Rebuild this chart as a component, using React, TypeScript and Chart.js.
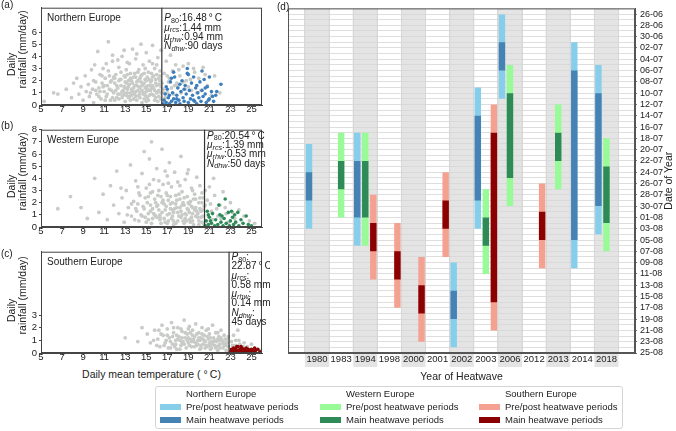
import React, { useEffect, useRef } from 'react';
import { Chart, registerables } from 'chart.js';

Chart.register(...registerables);

const FONT = '"Liberation Sans", Arial, Helvetica, sans-serif';
type Pt = [number, number];

// ---------------- panels (a)-(c) ----------------
const regionNames = ['Northern Europe', 'Western Europe', 'Southern Europe'];
const thresholdP80 = [16.48, 20.54, 22.87];
const muRcs = [1.44, 1.39, 0.58];
const muRhw = [0.94, 0.53, 0.14];
const nDhw = [90, 50, 45];
const tempTicks = [5, 7, 9, 11, 13, 15, 17, 19, 21, 23, 25];
const rainTicksA = [0, 1, 2, 3, 4, 5, 6];
const rainTicksB = [0, 1, 2, 3, 4, 5, 6, 7, 8];
const rainTicksC = [0, 1, 2, 3];

const northAll: Pt[] = [
  [5.3,0.3],[6.2,1.0],[6.6,0.9],[7.4,1.3],[7.9,0.6],[8.1,1.8],[8.4,2.2],[8.6,0.9],[8.8,1.5],[9.0,0.4],[9.2,2.4],[9.3,1.1],[9.5,1.7],[9.6,0.7],[9.8,2.9],[9.9,1.3],[10.0,0.2],[10.1,3.3],[10.2,1.9],[10.3,0.9],[10.4,4.4],[10.5,1.4],[10.6,2.5],[10.7,0.5],[10.8,1.8],[10.9,3.0],[11.0,1.1],[11.1,2.2],[11.2,0.7],[11.3,1.6],[11.4,5.2],[11.4,2.8],[11.5,1.3],[11.6,0.4],[11.7,2.0],[11.8,3.6],[11.9,1.0],[12.0,1.8],[12.1,2.5],[12.2,0.6],[12.3,1.4],[12.4,3.1],[12.5,2.1],[12.5,0.9],[12.6,1.6],[12.7,4.0],[12.8,1.2],[12.9,2.4],[13.0,0.3],[13.0,1.9],[13.1,2.9],[13.2,1.0],[13.3,1.5],[13.4,3.4],[13.4,0.7],[13.5,2.2],[13.6,1.3],[13.7,4.6],[13.7,1.8],[13.8,0.5],[13.9,2.6],[14.0,1.1],[14.0,3.8],[14.1,1.6],[14.2,2.0],[14.3,0.8],[14.3,2.9],[14.4,1.4],[14.5,5.0],[14.5,2.4],[14.6,0.2],[14.7,1.7],[14.7,3.3],[14.8,1.0],[14.9,2.1],[15.0,1.5],[15.0,4.3],[15.1,0.6],[15.2,2.7],[15.3,1.2],[15.3,3.6],[15.4,1.9],[15.5,0.9],[15.6,2.3],[15.6,4.9],[15.7,1.4],[15.8,0.4],[15.8,3.0],[15.9,1.8],[16.0,2.5],[16.1,1.1],[16.1,3.9],[16.2,0.7],[16.3,2.0],[16.4,1.5],[16.4,4.5],
  [16.7,2.6],[16.9,3.6],[17.1,1.9],[17.3,4.1],[17.5,2.8],[17.8,3.3],[18.0,1.5],[18.2,2.4],[18.5,3.2],[18.8,2.0],[19.0,3.4],[19.3,1.2],[19.6,2.7],[20.0,2.2],[20.4,3.1],[20.8,1.6],[21.2,0.8],[21.5,2.4],[22.0,1.0],
  [11.3,0.9],[11.6,1.9],[11.9,2.3],[12.1,1.2],[12.3,0.9],[12.4,2.0],[12.6,2.7],[12.8,0.8],[12.9,1.5],[13.1,1.8],[13.2,2.5],[13.3,0.6],[13.5,1.0],[13.6,2.0],[13.8,1.4],[13.9,0.9],[14.0,2.3],[14.2,1.2],[14.2,2.7],[14.4,0.6],[14.5,1.9],[14.6,1.2],[14.8,2.6],[14.9,0.8],[15.0,2.0],[15.1,1.3],[15.2,0.4],[15.4,1.6],[15.5,2.6],[15.7,0.8],[15.9,2.1],[16.0,1.0],[16.2,1.7],[16.3,2.8],[16.4,0.5],[16.6,1.3],[16.8,0.6],[17.0,1.0],[17.2,2.2],[17.6,0.9],[17.9,1.8],[18.3,1.0],[18.7,1.3],[19.2,2.1],[19.8,1.0],
  [12.7,1.1],[13.0,1.4],[13.3,2.0],[13.6,0.8],[13.9,1.6],[14.1,0.4],[14.4,2.2],[14.7,0.9],[15.0,0.3],[15.3,2.1],[15.6,1.6],[15.9,0.6],[16.2,2.2],[11.0,1.6],[10.6,1.1],[12.0,0.4],[14.9,1.4],[15.4,1.2],
  [10.2,1.2],[10.5,0.7],[10.9,1.5],[11.1,0.4],[11.5,2.4],[11.7,1.2],[11.8,0.6],[12.0,2.2],[12.2,1.6],[12.4,0.5],[12.6,2.1],[12.7,0.6],[12.9,1.0],[13.0,2.3],[13.1,0.8],[13.2,1.3],[13.4,1.7],[13.5,2.6],[13.5,0.4],[13.7,1.1],[13.8,2.3],[14.0,0.7],[14.1,1.9],[14.3,1.5],[14.4,1.0],[14.6,2.5],[14.6,1.6],[14.8,0.5],[14.8,1.8],[15.0,1.1],[15.1,2.3],[15.2,1.6],[15.3,0.8],[15.5,1.4],[15.5,2.0],[15.7,2.4],[15.8,1.2],[16.0,1.6],[16.1,0.3],[16.2,1.2],[16.3,2.4],[16.4,1.0],[16.5,1.8],[16.7,1.0],[17.0,2.4],[17.4,1.4],[17.7,1.6],[18.1,2.9],[18.5,1.9],[19.0,1.5],[19.5,3.0],[20.2,1.2],[20.6,2.5],[9.7,1.0],[10.0,2.0],[10.8,2.4],[11.2,3.4],[12.3,3.7],[13.2,3.5],[14.1,4.2],[14.9,3.0],[15.6,3.4],[16.0,3.3],[12.9,4.5],[11.8,4.1]
];
const northHeatwave: Pt[] = [
  [16.6,0.1],[16.7,0.4],[16.8,0.9],[16.9,0.2],[17.0,1.3],[17.1,0.6],[17.2,0.1],[17.3,1.9],[17.4,0.3],[17.5,1.0],[17.6,0.5],[17.7,2.3],[17.8,0.2],[17.9,0.8],[18.0,1.4],[18.1,0.4],[18.2,0.1],[18.3,1.1],[18.4,2.0],[18.5,0.6],[18.6,0.3],[18.7,1.6],[18.8,0.9],[18.9,2.6],[19.0,0.2],[19.1,1.2],[19.2,0.5],[19.3,1.8],[19.4,0.8],[19.5,2.3],[19.6,0.3],[19.7,1.4],[19.8,0.1],[19.9,1.0],[20.0,0.6],[20.1,1.9],[20.2,0.3],[20.3,1.2],[20.4,0.7],[20.5,2.1],[20.6,0.9],[20.7,0.2],[20.8,1.5],[21.0,0.5],[21.2,1.1],[21.4,0.3],[21.6,0.8],[22.1,1.7],[21.7,1.1],[17.6,2.7],[18.9,3.0],[20.3,2.8],[19.0,2.5],[18.2,1.7],[17.2,0.8],[16.9,1.5],[20.9,0.4],[19.5,0.4],[18.6,1.3],[17.9,0.5],[21.3,0.7],[19.8,1.6],[20.6,1.4],[17.4,2.2],[21.0,2.3]
];

const westAll: Pt[] = [
  [6.6,1.5],[7.8,2.5],[8.8,1.6],[9.4,0.7],[10.1,4.0],[10.5,1.2],[10.9,2.7],[11.3,0.6],[11.6,3.4],[11.9,1.8],[12.2,4.6],[12.4,1.1],[12.7,2.4],[12.9,0.4],[13.1,3.0],[13.3,1.6],[13.5,5.1],[13.6,0.9],[13.8,2.1],[14.0,3.8],[14.1,1.3],[14.3,0.5],[14.4,2.6],[14.6,4.4],[14.7,1.7],[14.8,6.2],[14.9,0.8],[15.0,3.2],[15.1,2.0],[15.2,1.1],[15.3,5.6],[15.4,2.8],[15.5,7.0],[15.5,0.3],[15.6,1.5],[15.7,3.9],[15.8,2.3],[15.9,0.9],[16.0,4.8],[16.1,1.8],[16.2,3.0],[16.3,0.6],[16.4,2.5],[16.5,6.4],[16.5,1.2],[16.6,3.5],[16.7,1.9],[16.8,0.4],[16.9,2.8],[17.0,4.2],[17.0,1.0],[17.1,2.2],[17.2,5.3],[17.3,1.5],[17.4,0.7],[17.4,3.3],[17.5,2.0],[17.6,1.2],[17.7,4.5],[17.8,2.6],[17.8,0.3],[17.9,1.6],[18.0,3.7],[18.1,0.9],[18.2,2.3],[18.3,1.3],[18.3,5.8],[18.4,2.9],[18.5,0.5],[18.6,1.8],[18.7,3.9],[18.8,1.0],[18.9,2.5],[19.0,1.4],[19.0,4.7],[19.1,0.6],[19.2,2.1],[19.3,3.2],[19.4,1.1],[19.5,0.2],[19.6,2.7],[19.7,1.6],[19.8,4.1],[19.9,0.8],[20.0,2.0],[20.1,3.4],[20.2,1.3],[20.3,0.4],[20.4,2.4],[20.5,1.7],
  [20.6,3.0],[20.8,2.2],[21.0,3.3],[21.2,1.3],[21.5,2.6],[21.8,0.9],[22.0,1.8],[22.3,2.9],[22.6,1.1],[23.0,2.0],[23.4,0.7],[23.8,1.4],[24.3,0.9],[24.8,0.5],[25.3,0.3],[21.4,4.0],[22.8,0.4],
  [14.2,1.9],[14.5,1.0],[14.9,2.4],[15.2,0.6],[15.4,1.8],[15.7,1.1],[15.9,2.0],[16.0,0.8],[16.2,1.4],[16.4,0.3],[16.6,2.2],[16.8,1.4],[17.0,2.6],[17.1,0.5],[17.3,1.9],[17.5,0.9],[17.7,1.5],[17.9,2.2],[18.0,0.5],[18.2,1.6],[18.4,1.0],[18.5,2.0],[18.7,0.7],[18.9,1.5],[19.1,1.9],[19.2,0.4],[19.4,1.6],[19.5,2.3],[19.7,0.9],[19.8,1.3],[20.0,0.5],[20.1,1.5],[20.3,2.0],[20.4,0.9],[19.3,0.8],[18.6,0.3],[17.6,0.2],[16.3,1.0],[15.6,0.7],[20.5,0.2],
  [13.2,1.0],[13.6,1.9],[13.9,0.6],[14.0,1.5],[14.3,2.8],[14.6,0.9],[14.8,1.5],[15.0,0.4],[15.2,2.5],[15.4,1.3],[15.6,2.9],[15.8,1.0],[16.0,1.7],[16.1,2.6],[16.3,0.8],[16.5,2.0],[16.7,0.7],[16.9,1.7],[17.0,0.3],[17.2,1.1],[17.3,2.5],[17.5,1.4],[17.6,0.5],[17.8,1.9],[18.0,1.2],[18.1,2.7],[18.3,0.8],[18.4,1.8],[18.6,2.4],[18.7,1.1],[18.8,0.5],[19.0,2.0],[19.1,1.2],[19.3,1.7],[19.4,0.5],[19.6,1.4],[19.7,2.3],[19.9,1.1],[20.0,0.2],[20.1,2.4],[20.2,0.8],[20.4,1.4],[20.6,1.8],[20.9,0.9],[21.1,1.9],[21.3,0.6],[21.7,1.5],[22.1,0.7],[22.5,1.6],[23.2,1.2],[16.2,3.8],[17.1,3.6],[18.2,3.4],[19.4,3.0],[15.3,3.5],[14.2,3.3],[12.6,3.2],[18.9,4.4],[20.3,2.8],[16.8,4.6]
];
const westHeatwave: Pt[] = [
  [20.6,0.1],[20.7,0.5],[20.8,1.3],[20.9,0.2],[21.0,0.8],[21.2,0.3],[21.3,1.1],[21.5,0.1],[21.6,0.6],[21.8,0.2],[22.0,1.0],[22.1,0.4],[22.3,0.1],[22.4,0.7],[22.5,2.3],[22.6,0.3],[22.8,1.2],[22.9,0.1],[23.0,0.5],[23.1,1.3],[23.3,0.2],[23.4,1.0],[23.5,0.4],[23.7,1.2],[23.8,0.1],[24.0,0.6],[24.2,0.3],[24.5,0.9],[24.7,0.2],[25.0,0.1],[21.9,1.8],[23.2,0.8],[22.2,0.9],[21.1,0.5],[20.9,1.0]
];

const southAll: Pt[] = [
  [13.0,1.2],[14.2,0.9],[14.6,2.0],[15.1,1.5],[15.4,0.8],[15.8,1.8],[16.1,1.1],[16.3,0.5],[16.5,2.2],[16.6,1.4],[16.8,0.8],[17.0,1.9],[17.1,0.4],[17.2,1.2],[17.4,2.4],[17.5,0.7],[17.6,1.6],[17.8,1.0],[17.9,0.3],[18.0,2.0],[18.1,1.3],[18.3,0.6],[18.4,1.7],[18.5,0.9],[18.6,2.6],[18.7,1.2],[18.8,0.4],[18.9,1.5],[19.0,0.8],[19.1,2.1],[19.2,1.1],[19.3,0.5],[19.4,1.8],[19.5,0.9],[19.6,1.3],[19.7,2.3],[19.8,0.6],[19.9,1.0],[20.0,1.6],[20.1,0.3],[20.2,1.2],[20.3,2.0],[20.4,0.7],[20.5,1.4],[20.6,0.9],[20.7,1.8],[20.8,0.5],[20.9,1.1],[21.0,1.5],[21.1,0.3],[21.2,0.9],[21.3,2.2],[21.4,1.2],[21.5,0.6],[21.6,1.6],[21.7,0.9],[21.8,0.2],[21.9,1.3],[22.0,0.7],[22.1,1.8],[22.2,1.0],[22.3,0.4],[22.4,1.4],[22.5,0.8],[22.6,0.2],[22.7,1.1],[22.8,0.5],
  [23.1,0.9],[23.3,1.4],[23.5,0.6],[23.8,1.0],[24.0,0.4],[24.3,0.8],[24.6,0.5],[25.0,0.7],[25.4,0.3],[25.8,0.2],[23.7,1.8],
  [17.3,0.9],[17.7,0.5],[18.2,1.0],[18.6,0.7],[19.0,1.2],[19.3,0.9],[19.6,0.5],[19.9,0.7],[20.1,1.0],[20.4,1.1],[20.7,0.6],[21.0,0.8],[21.2,0.4],[21.4,0.9],[21.7,0.5],[22.0,1.0],[22.3,0.8],[22.6,0.6],[20.2,0.4],[19.4,1.4],[18.4,1.2],[17.9,1.4],[16.9,1.0],[21.9,0.6],
  [15.7,1.0],[16.0,0.6],[16.4,1.5],[16.7,0.6],[17.0,1.4],[17.3,0.4],[17.5,1.3],[17.8,0.7],[18.0,1.1],[18.2,0.3],[18.4,0.8],[18.7,1.6],[18.9,1.0],[19.1,0.6],[19.2,1.6],[19.5,1.1],[19.7,0.8],[19.8,1.5],[20.0,1.2],[20.2,0.6],[20.3,1.5],[20.5,1.0],[20.6,0.4],[20.8,1.3],[21.0,0.6],[21.1,1.2],[21.3,0.7],[21.5,1.0],[21.6,0.4],[21.8,1.1],[22.0,0.4],[22.1,1.2],[22.4,0.6],[22.5,1.1],[22.7,0.8],[22.8,1.3],[23.2,0.6],[23.5,1.0],[23.9,0.7],[24.2,0.5],[19.0,1.9],[20.9,1.9],[21.8,1.6],[18.3,1.9],[17.6,2.0],[16.2,1.8]
];
const southHeatwave: Pt[] = [
  [23.0,0.1],[23.1,0.3],[23.2,0.2],[23.3,0.4],[23.4,0.1],[23.5,0.3],[23.6,0.2],[23.7,0.5],[23.8,0.1],[23.9,0.3],[24.0,0.2],[24.1,0.4],[24.2,0.1],[24.3,0.3],[24.4,0.2],[24.5,0.4],[24.6,0.1],[24.7,0.3],[24.8,0.2],[24.9,0.1],[25.0,0.3],[25.1,0.2],[25.2,0.1],[25.4,0.2],[25.6,0.3],[25.8,0.1],[23.6,0.5],[24.0,0.5],[25.3,0.4]
];

// ---------------- panel (d) ----------------
const years = ['1980','1983','1994','1998','2000','2001','2002','2003','2006','2012','2013','2014','2018'];
const dateTicks = ['26-06','28-06','30-06','02-07','04-07','06-07','08-07','10-07','12-07','14-07','16-07','18-07','20-07','22-07','24-07','26-07','28-07','30-07','01-08','03-08','05-08','07-08','09-08','11-08','13-08','15-08','17-08','19-08','21-08','23-08','25-08'];

const northYears = ['1980','1994','2002','2003','2006','2014','2018'];
const northPreStart = ['19-07','17-07','09-08','09-07','26-06','01-07','05-07'];
const northMainStart = ['24-07','22-07','14-08','14-07','01-07','06-07','10-07'];
const northMainEnd = ['29-07','01-08','19-08','29-07','06-07','05-08','30-07'];
const northPostEnd = ['03-08','06-08','24-08','03-08','11-07','10-08','04-08'];

const westYears = ['1983','1994','2003','2006','2013','2018'];
const westPreStart = ['17-07','17-07','27-07','05-07','12-07','18-07'];
const westMainStart = ['22-07','22-07','01-08','10-07','17-07','23-07'];
const westMainEnd = ['27-07','01-08','06-08','25-07','22-07','02-08'];
const westPostEnd = ['01-08','06-08','11-08','30-07','27-07','07-08'];

const southYears = ['1994','1998','2000','2001','2003','2012'];
const southPreStart = ['28-07','02-08','08-08','24-07','12-07','26-07'];
const southMainStart = ['02-08','07-08','13-08','29-07','17-07','31-07'];
const southMainEnd = ['07-08','12-08','18-08','03-08','16-08','05-08'];
const southPostEnd = ['12-08','17-08','23-08','08-08','21-08','10-08'];

const legendItems = ['Pre/post heatwave periods', 'Main heatwave periods'];

const COLORS = {
  nLight: '#87ceeb', nMain: '#4682b4',
  wLight: '#98fb98', wMain: '#2e8b57',
  sLight: '#f4a191', sMain: '#8b0000',
  nDot: '#3d7fbd', wDot: '#2e8b57', sDot: '#8b0000',
  gray: '#c8cbc8',
};

// days counted from 26 June
function dayIndex(s: string): number {
  const [d, m] = s.split('-').map(Number);
  return d + (m === 6 ? -26 : m === 7 ? 4 : 35);
}

type Seg = { t: string; it?: boolean; sub?: boolean };

function drawRich(ctx: CanvasRenderingContext2D, x: number, y: number, segs: Seg[], size: number) {
  let cx = x;
  ctx.textAlign = 'left';
  ctx.textBaseline = 'middle';
  for (const s of segs) {
    const fs = s.sub ? size * 0.72 : size;
    ctx.font = `${s.it ? 'italic ' : ''}${fs}px ${FONT}`;
    ctx.fillText(s.t, cx, s.sub ? y + size * 0.25 : y);
    cx += ctx.measureText(s.t).width;
  }
}

function annotWide(i: number): Seg[][] {
  return [
    [{ t: 'P', it: true }, { t: '80', sub: true }, { t: `:${thresholdP80[i].toFixed(2)}\u2009°\u2009C` }],
    [{ t: 'μ', it: true }, { t: 'rcs', sub: true, it: true }, { t: `:${muRcs[i].toFixed(2)} mm` }],
    [{ t: 'μ', it: true }, { t: 'rhw', sub: true, it: true }, { t: `:${muRhw[i].toFixed(2)} mm` }],
    [{ t: 'N', it: true }, { t: 'dhw', sub: true, it: true }, { t: `:${nDhw[i]} days` }],
  ];
}
function annotNarrow(i: number): Seg[][] {
  return [
    [{ t: 'P', it: true }, { t: '80', sub: true }, { t: ':' }],
    [{ t: `${thresholdP80[i].toFixed(2)}\u2009°\u2009C` }],
    [{ t: 'μ', it: true }, { t: 'rcs', sub: true, it: true }, { t: ':' }],
    [{ t: `${muRcs[i].toFixed(2)} mm` }],
    [{ t: 'μ', it: true }, { t: 'rhw', sub: true, it: true }, { t: ':' }],
    [{ t: `${muRhw[i].toFixed(2)} mm` }],
    [{ t: 'N', it: true }, { t: 'dhw', sub: true, it: true }, { t: ':' }],
    [{ t: `${nDhw[i]} days` }],
  ];
}

interface ScatterOpts {
  idx: number; gray: Pt[]; hot: Pt[]; hotColor: string; yTicks: number[];
  padTop: number; xAxisH: number; annotTop: number; annot: Seg[][];
}

function scatterChart(canvas: HTMLCanvasElement, p: ScatterOpts) {
  const tickFont = { family: FONT, size: 9.5 };
  return new Chart(canvas, {
    type: 'scatter',
    data: {
      datasets: [
        { data: p.hot.map(([x, y]) => ({ x, y })), backgroundColor: p.hotColor, pointRadius: 1.8, borderWidth: 0 },
        { data: p.gray.map(([x, y]) => ({ x, y })), backgroundColor: COLORS.gray, pointRadius: 1.9, borderWidth: 0 },
      ],
    },
    options: {
      responsive: false, animation: false, devicePixelRatio: 1,
      layout: { padding: { top: p.padTop, right: 8, left: 0, bottom: 0 } },
      plugins: { legend: { display: false }, tooltip: { enabled: false } },
      scales: {
        x: {
          type: 'linear', min: 5, max: 26,
          afterBuildTicks: (s: any) => { s.ticks = tempTicks.map((value) => ({ value })); },
          ticks: { autoSkip: false, maxRotation: 0, padding: -3, color: '#222', font: tickFont },
          grid: { drawOnChartArea: false, tickLength: 2, color: '#444' },
          border: { color: '#444' },
          afterFit: (s: any) => { s.height = p.xAxisH; },
        },
        y: {
          type: 'linear', min: 0, max: 8,
          afterBuildTicks: (s: any) => { s.ticks = p.yTicks.map((value) => ({ value })); },
          ticks: { autoSkip: false, padding: 2, color: '#222', font: tickFont },
          grid: { drawOnChartArea: false, tickLength: 2, color: '#444' },
          border: { color: '#444' },
          afterFit: (s: any) => { s.width = 41; },
        },
      },
    } as any,
    plugins: [{
      id: 'deco' + p.idx,
      afterDatasetsDraw(chart: any) {
        const { ctx, chartArea: a, scales } = chart;
        const tx = scales.x.getPixelForValue(thresholdP80[p.idx]);
        ctx.save();
        ctx.strokeStyle = '#333';
        ctx.lineWidth = 1.2;
        ctx.beginPath();
        ctx.moveTo(tx, a.top);
        ctx.lineTo(tx, a.bottom);
        ctx.stroke();
        ctx.restore();
      },
      afterDraw(chart: any) {
        const { ctx, chartArea: a, scales } = chart;
        ctx.save();
        ctx.strokeStyle = '#444';
        ctx.lineWidth = 1;
        ctx.strokeRect(a.left + 0.5, a.top + 0.5, a.right - a.left - 1, a.bottom - a.top - 1);
        ctx.fillStyle = '#222';
        ctx.font = `10px ${FONT}`;
        ctx.textAlign = 'left';
        ctx.textBaseline = 'middle';
        ctx.fillText(regionNames[p.idx], a.left + 6, a.top + 10.7);
        const tx = scales.x.getPixelForValue(thresholdP80[p.idx]) + 2.5;
        p.annot.forEach((line, k) => drawRich(ctx, tx, a.top + p.annotTop + k * 9.3, line, 10));
        const cy = (a.top + a.bottom) / 2;
        ctx.font = `10.5px ${FONT}`;
        ctx.textAlign = 'center';
        ctx.save();
        ctx.translate(12.5, cy + 8);
        ctx.rotate(-Math.PI / 2);
        ctx.fillText('Daily', 0, 0);
        ctx.restore();
        ctx.save();
        ctx.translate(23.5, cy - 7);
        ctx.rotate(-Math.PI / 2);
        ctx.fillText('rainfall (mm/day)', 0, 0);
        ctx.restore();
        ctx.restore();
      },
    }],
  });
}

function periodData(ys: string[], a: string[], b: string[]) {
  return ys.map((y, k) => ({ x: years.indexOf(y), y: [dayIndex(a[k]), dayIndex(b[k])] }));
}

const GRID = '#d6d6d6';

function heatwaveChart(canvas: HTMLCanvasElement) {
  const tickFont = { family: FONT, size: 9.5 };
  return new Chart(canvas, {
    type: 'bar',
    data: {
      datasets: [
        { label: 'N main', stack: 'N', order: 0, data: periodData(northYears, northMainStart, northMainEnd), backgroundColor: COLORS.nMain },
        { label: 'N pre/post', stack: 'N', order: 1, data: periodData(northYears, northPreStart, northPostEnd), backgroundColor: COLORS.nLight },
        { label: 'W main', stack: 'W', order: 0, data: periodData(westYears, westMainStart, westMainEnd), backgroundColor: COLORS.wMain },
        { label: 'W pre/post', stack: 'W', order: 1, data: periodData(westYears, westPreStart, westPostEnd), backgroundColor: COLORS.wLight },
        { label: 'S main', stack: 'S', order: 0, data: periodData(southYears, southMainStart, southMainEnd), backgroundColor: COLORS.sMain },
        { label: 'S pre/post', stack: 'S', order: 1, data: periodData(southYears, southPreStart, southPostEnd), backgroundColor: COLORS.sLight },
      ] as any,
    },
    options: {
      responsive: false, animation: false, devicePixelRatio: 1,
      layout: { padding: { left: 8, top: 3, right: 0, bottom: 0 } },
      plugins: { legend: { display: false }, tooltip: { enabled: false } },
      datasets: { bar: { barPercentage: 0.8, categoryPercentage: 1, borderWidth: 0 } },
      scales: {
        x: {
          type: 'linear', min: -0.65, max: 12.63, stacked: true,
          afterBuildTicks: (s: any) => { s.ticks = years.map((_, i) => ({ value: i })); },
          ticks: { autoSkip: false, maxRotation: 0, padding: 1, color: '#222', font: tickFont,
            callback: (v: any) => years[v] ?? '' },
          grid: { color: GRID, lineWidth: 0.8, drawTicks: false },
          border: { color: '#555' },
          afterFit: (s: any) => { s.height = 19; },
        },
        y: {
          type: 'linear', position: 'right', reverse: true, min: -1, max: 60, stacked: false,
          afterBuildTicks: (s: any) => {
            const t: { value: number }[] = [];
            for (let v = -1; v <= 60; v++) t.push({ value: v });
            s.ticks = t;
          },
          ticks: { autoSkip: false, padding: 3, color: '#222', font: { family: FONT, size: 9 },
            callback: (v: any) => (v >= 0 && v % 2 === 0 ? dateTicks[v / 2] : '') },
          grid: { color: GRID, lineWidth: 0.8, tickLength: 2,
            tickColor: (c: any) => (c.tick && c.tick.value >= 0 && c.tick.value % 2 === 0 ? '#555' : 'rgba(0,0,0,0)') },
          border: { color: '#555' },
          afterFit: (s: any) => { s.width = 41; },
        },
      },
    } as any,
    plugins: [{
      id: 'bands',
      beforeDraw(chart: any) {
        const { ctx, chartArea: a, scales } = chart;
        ctx.save();
        ctx.fillStyle = '#e4e4e4';
        years.forEach((_, i) => {
          if (i % 2 !== 0) return;
          const x0 = scales.x.getPixelForValue(i - 0.5);
          const x1 = scales.x.getPixelForValue(i + 0.5);
          ctx.fillRect(x0, a.top, x1 - x0, a.bottom - a.top + 14);
        });
        ctx.restore();
      },
      beforeDatasetsDraw(chart: any) {
        const { ctx, chartArea: a, scales } = chart;
        ctx.save();
        ctx.strokeStyle = GRID;
        ctx.lineWidth = 0.8;
        for (let k = 0; k <= years.length; k++) {
          const x = scales.x.getPixelForValue(k - 0.5);
          ctx.beginPath();
          ctx.moveTo(x, a.top);
          ctx.lineTo(x, a.bottom);
          ctx.stroke();
        }
        ctx.restore();
      },
      afterDraw(chart: any) {
        const { ctx, chartArea: a } = chart;
        ctx.save();
        ctx.strokeStyle = '#555';
        ctx.lineWidth = 1;
        ctx.strokeRect(a.left + 0.5, a.top + 0.5, a.right - a.left - 1, a.bottom - a.top - 1);
        ctx.fillStyle = '#222';
        ctx.font = `10.5px ${FONT}`;
        ctx.textAlign = 'center';
        ctx.textBaseline = 'middle';
        ctx.translate(389, (a.top + a.bottom) / 2);
        ctx.rotate(-Math.PI / 2);
        ctx.fillText('Date of Year', 0, 0);
        ctx.restore();
      },
    }],
  });
}

const txt = (left: number, top: number, size: number, s: React.ReactNode, extra: React.CSSProperties = {}) => (
  <div style={{ position: 'absolute', left, top, fontSize: size, lineHeight: `${size}px`, whiteSpace: 'nowrap', ...extra }}>{s}</div>
);

export default function App() {
  const aRef = useRef<HTMLCanvasElement>(null);
  const bRef = useRef<HTMLCanvasElement>(null);
  const cRef = useRef<HTMLCanvasElement>(null);
  const dRef = useRef<HTMLCanvasElement>(null);

  useEffect(() => {
    const charts = [
      scatterChart(aRef.current!, { idx: 0, gray: northAll, hot: northHeatwave, hotColor: COLORS.nDot, yTicks: rainTicksA, padTop: 2, xAxisH: 17, annotTop: 10.8, annot: annotWide(0) }),
      scatterChart(bRef.current!, { idx: 1, gray: westAll, hot: westHeatwave, hotColor: COLORS.wDot, yTicks: rainTicksB, padTop: 4, xAxisH: 17, annotTop: 6.3, annot: annotWide(1) }),
      scatterChart(cRef.current!, { idx: 2, gray: southAll, hot: southHeatwave, hotColor: COLORS.sDot, yTicks: rainTicksC, padTop: 6, xAxisH: 15, annotTop: 5.5, annot: annotNarrow(2) }),
      heatwaveChart(dRef.current!),
    ];
    return () => charts.forEach((c) => c.destroy());
  }, []);

  const legendCols = [
    { x: 4, light: COLORS.nLight, main: COLORS.nMain, name: regionNames[0] },
    { x: 164, light: COLORS.wLight, main: COLORS.wMain, name: regionNames[1] },
    { x: 323, light: COLORS.sLight, main: COLORS.sMain, name: regionNames[2] },
  ];

  return (
    <div style={{ position: 'absolute', left: 0, top: 0, width: 676, height: 431, background: '#fff', fontFamily: FONT, color: '#222', overflow: 'hidden' }}>
      <canvas ref={aRef} width={270} height={122} style={{ position: 'absolute', left: 0, top: 0 }} />
      <canvas ref={bRef} width={270} height={122} style={{ position: 'absolute', left: 0, top: 122 }} />
      <canvas ref={cRef} width={270} height={124} style={{ position: 'absolute', left: 0, top: 244 }} />
      <canvas ref={dRef} width={396} height={372} style={{ position: 'absolute', left: 280, top: 0 }} />
      {txt(1, 0, 10, '(a)')}
      {txt(1, 121, 10, '(b)')}
      {txt(1, 249, 10, '(c)')}
      {txt(277, 2, 10, '(d)')}
      <div style={{ position: 'absolute', left: 41, top: 369, width: 221, textAlign: 'center', fontSize: 10.5, lineHeight: '10.5px', whiteSpace: 'nowrap' }}>
        Daily mean temperature ( °{'\u2009'}C)
      </div>
      <div style={{ position: 'absolute', left: 288, top: 371, width: 347, textAlign: 'center', fontSize: 10.5, lineHeight: '10.5px' }}>
        Year of Heatwave
      </div>
      <div style={{ position: 'absolute', left: 155, top: 386, width: 468, height: 43, border: '1px solid #d4d4d4', borderRadius: 3, boxSizing: 'border-box' }}>
        {legendCols.map((c) => (
          <React.Fragment key={c.name}>
            {txt(c.x + 26, 2, 9.5, c.name)}
            <div style={{ position: 'absolute', left: c.x, top: 17, width: 21, height: 6, background: c.light }} />
            {txt(c.x + 26, 15, 9.5, legendItems[0])}
            <div style={{ position: 'absolute', left: c.x, top: 30, width: 21, height: 6, background: c.main }} />
            {txt(c.x + 26, 28, 9.5, legendItems[1])}
          </React.Fragment>
        ))}
      </div>
    </div>
  );
}
